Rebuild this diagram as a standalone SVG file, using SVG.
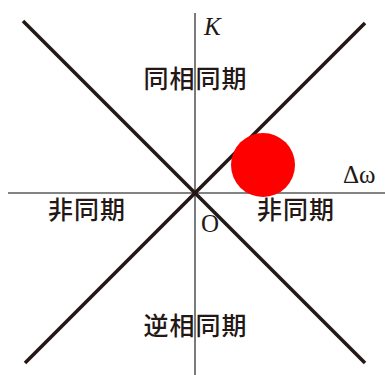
<svg xmlns="http://www.w3.org/2000/svg" width="385" height="375" viewBox="0 0 385 375">
<style>
.axis{stroke:#5a5a5a;stroke-width:1.6;fill:none}
.diag{stroke:#231815;stroke-width:3.6;fill:none}
.cjk{font-family:"Noto Sans CJK JP","Noto Sans CJK SC",sans-serif;font-size:25px;fill:#231815;text-anchor:middle;font-weight:500}
.math{font-family:"Liberation Serif",serif;font-size:25px;fill:#231815}
</style>
<rect width="385" height="375" fill="#fff"/>
<g id="connectors">
<line class="axis" x1="195" y1="13" x2="195" y2="375"/>
<line class="axis" x1="8" y1="193" x2="385" y2="193"/>
<line class="diag" x1="23" y1="21" x2="365" y2="363"/>
<line class="diag" x1="365" y1="23" x2="25" y2="363"/>
</g>
<g id="dot"><circle cx="263" cy="165" r="32" fill="#ff0000"/></g>
<g id="labels">
<text class="math" x="204" y="35" font-style="italic">K</text>
<text class="math" x="343" y="183">Δω</text>
<text class="math" x="201" y="232">O</text>
<text class="cjk" x="195.5" y="88" letter-spacing="1">同相同期</text>
<text class="cjk" x="87" y="219" letter-spacing="1">非同期</text>
<text class="cjk" x="296" y="219" letter-spacing="1">非同期</text>
<text class="cjk" x="195.5" y="335" letter-spacing="1">逆相同期</text>
</g>
</svg>
